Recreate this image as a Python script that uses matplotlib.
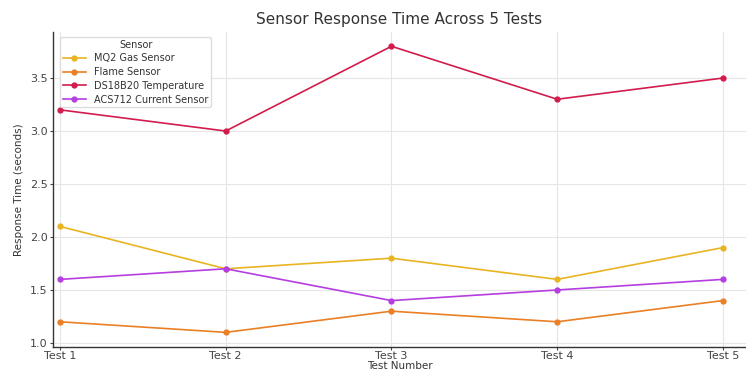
import matplotlib
matplotlib.use("Agg")
import matplotlib.pyplot as plt

tests = ["Test 1", "Test 2", "Test 3", "Test 4", "Test 5"]
mq2 = [2.1, 1.7, 1.8, 1.6, 1.9]
flame = [1.2, 1.1, 1.3, 1.2, 1.4]
ds18b20 = [3.2, 3.0, 3.8, 3.3, 3.5]
acs712 = [1.6, 1.7, 1.4, 1.5, 1.6]

series = [
    ("MQ2 Gas Sensor", mq2, "#e8b422"),
    ("Flame Sensor", flame, "#ea7f26"),
    ("DS18B20 Temperature", ds18b20, "#d21c4c"),
    ("ACS712 Current Sensor", acs712, "#b43ee0"),
]

fig = plt.figure(figsize=(7.46, 3.76), dpi=100)
ax = fig.add_axes([0.071, 0.078, 0.929, 0.837])

x = list(range(len(tests)))
for name, vals, col in series:
    ax.plot(x, vals, marker="o", markersize=3.5, linewidth=1.2, color=col, label=name)

ax.set_xticks(x)
ax.set_xticklabels(tests, fontsize=8)
ax.tick_params(axis="y", labelsize=8, length=2, pad=2, colors="#444444")
ax.tick_params(axis="x", length=2, pad=1, colors="#444444")
ax.set_xlim(-0.042, 4.139)
ax.set_ylim(0.965, 3.935)
ax.set_yticks([1.0, 1.5, 2.0, 2.5, 3.0, 3.5])
ax.grid(True, color="#e6e6e6", linewidth=0.8)
ax.set_axisbelow(True)
for s in ["top", "right"]:
    ax.spines[s].set_visible(False)
for s in ["left", "bottom"]:
    ax.spines[s].set_color("#333333")
    ax.spines[s].set_linewidth(1.0)

ax.set_title("Sensor Response Time Across 5 Tests", fontsize=11, color="#333333", pad=6)
ax.set_xlabel("Test Number", fontsize=7.5, color="#333333", labelpad=0)
ax.set_ylabel("Response Time (seconds)", fontsize=7.5, color="#333333", labelpad=4)

leg = ax.legend(title="Sensor", loc="upper left", fontsize=7, title_fontsize=7,
                frameon=True, framealpha=1, edgecolor="#dddddd",
                handlelength=2.4, borderpad=0.3, labelspacing=0.38,
                bbox_to_anchor=(0.003, 1.0))
for t in leg.get_texts():
    t.set_color("#333333")
leg.get_title().set_color("#333333")

fig.savefig("out.png", dpi=100)
